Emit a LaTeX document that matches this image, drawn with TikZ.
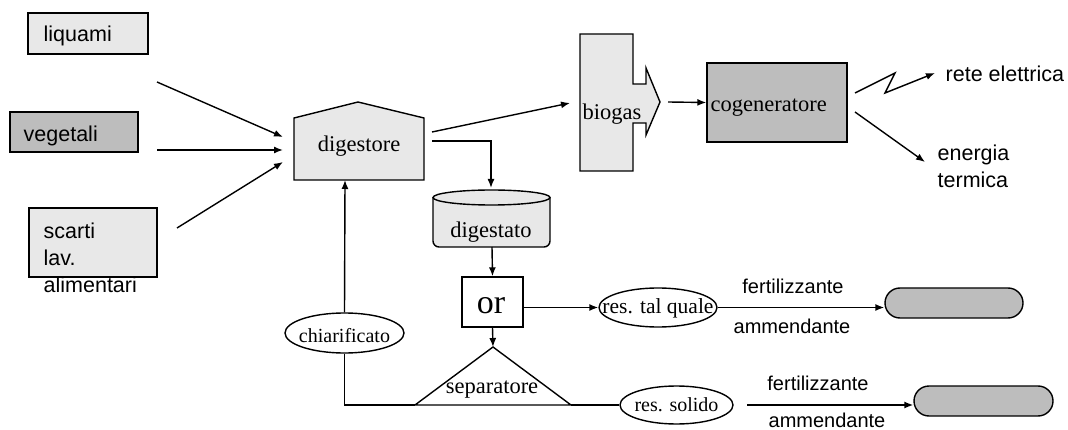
\documentclass[tikz,border=0pt]{standalone}
\usepackage{fontspec}
\setmainfont{Liberation Serif}
\setsansfont{Liberation Sans}
\usetikzlibrary{arrows.meta,shapes.geometric,shapes.misc,calc}
\definecolor{lightfill}{gray}{0.91}
\definecolor{darkfill}{gray}{0.74}
\begin{document}
\begin{tikzpicture}[x=1pt,y=-1pt,line width=1.4pt,
  arr/.style={-{Latex[length=9pt,width=7pt]}},
  ser/.style={font=\fontsize{22.5}{27}\selectfont},
  sersm/.style={font=\fontsize{20}{24}\selectfont},
  san/.style={font=\sffamily\fontsize{21.5}{27}\selectfont},
  sansm/.style={font=\sffamily\fontsize{20}{24}\selectfont},
  inbox/.style={draw,fill=lightfill,inner sep=0pt},
  oval/.style={draw,fill=white,ellipse,inner sep=0pt},
  pill/.style={draw,fill=darkfill,rounded rectangle,inner sep=0pt,minimum height=30pt}]
\useasboundingbox (0,0) rectangle (1068,430);

% input boxes
\node[inbox,minimum width=120pt,minimum height=41pt] (liq) at (88,33.5) {};
\node[san,anchor=base west,inner sep=0pt] (liqt) at (43,42) {liquami};
\node[inbox,fill=darkfill,minimum width=128pt,minimum height=40pt] (veg) at (74,132) {};
\node[san,anchor=base west,inner sep=0pt] (vegt) at (23,142) {vegetali};
\node[inbox,minimum width=128pt,minimum height=69pt] (sca) at (93,242.5) {};
\node[san,anchor=north west,align=left,inner sep=0pt] (scat) at (43,222.5) {scarti\\lav.\\alimentari};

% digestore
\draw[fill=lightfill] (294,180) -- (294,118) -- (358,102) -- (424,118) -- (424,180) -- cycle;
\node[ser,anchor=base,inner sep=0pt] (dig) at (359,152) {digestore};

\coordinate (i1s) at (157,82);  \coordinate (i1e) at (283,137);
\coordinate (i2s) at (157,150); \coordinate (i2e) at (283,150);
\coordinate (i3s) at (177,228); \coordinate (i3e) at (283,162);
\draw[arr] (i1s) -- (i1e);
\draw[arr] (i2s) -- (i2e);
\draw[arr] (i3s) -- (i3e);

% biogas
\draw[fill=lightfill] (580,34) -- (633,34) -- (633,84) -- (646,84) -- (646,68) -- (660,102) -- (646,135) -- (646,123) -- (633,123) -- (633,171) -- (580,171) -- cycle;
\node[ser,anchor=base,inner sep=0pt] (bio) at (612,120) {biogas};
\coordinate (d1) at (432,132); \coordinate (b1) at (570,103);
\draw[arr] (d1) -- (b1);

% cogeneratore
\node[draw,fill=darkfill,minimum width=140pt,minimum height=79pt,inner sep=0pt] (cog) at (777,102.5) {};
\node[ser,anchor=base west,inner sep=0pt] (cogt) at (710,112) {cogeneratore};
\coordinate (b2) at (668,102);
\draw[arr] (b2) -- (cog.west);

% outputs of cogeneratore
\node[san,anchor=base west,inner sep=0pt] (rete) at (945,82) {rete elettrica};
\node[san,anchor=north west,align=left,inner sep=0pt] (ener) at (937,144.5) {energia\\termica};
\coordinate (z0) at (855,93); \coordinate (z1) at (895,73); \coordinate (z2) at (885,93); \coordinate (z3) at (935,73);
\draw[arr] (z0) -- (z1) -- (z2) -- (z3);
\coordinate (e0) at (855,112); \coordinate (e1) at (925,162);
\draw[arr] (e0) -- (e1);

% digestato
\draw[fill=lightfill,rounded corners=6pt] (433,197.5) -- (433,247) -- (550,247) -- (550,197.5);
\draw[fill=lightfill] (491.5,197.5) ellipse [x radius=58.5, y radius=7.5];
\node[ser,anchor=base,inner sep=0pt] (dgt) at (491,238) {digestato};
\coordinate (d2) at (432,141); \coordinate (dgtop) at (491,188);
\draw[arr] (d2) -| (dgtop);

% or
\node[draw,fill=white,minimum width=61pt,minimum height=50pt,inner sep=0pt] (or) at (492.5,302) {};
\node[font=\fontsize{34}{40}\selectfont,anchor=base,inner sep=0pt] (ort) at (491,313) {or};
\coordinate (dgbot) at (492,247);
\draw[arr] (dgbot) -- (or.north);

% res. tal quale
\node[oval,minimum width=118pt,minimum height=39pt] (tq) at (658,307.5) {};
\node[ser,font=\fontsize{21.5}{26}\selectfont,anchor=base,inner sep=0pt] (tqt) at (658,313) {res. tal quale};
\draw[arr] (or.east |- tq.west) -- (tq.west);

% separatore
\coordinate (sa) at (493,347); \coordinate (sl) at (415,405); \coordinate (sr) at (571,405);
\draw[fill=white] (sl) -- (sa) -- (sr) -- cycle;
\node[ser,anchor=base,inner sep=0pt] (sep) at (492,393) {separatore};
\draw[arr] (or.south) -- (sa);

% chiarificato
\node[oval,minimum width=119pt,minimum height=40pt] (chi) at (344.5,333) {};
\node[sersm,anchor=base,inner sep=0pt] (chit) at (344.5,342) {chiarificato};
\coordinate (dbot) at (345,180);
\draw[arr] (chi.north) -- (dbot);
\draw (chi.south) |- (sl);

% res. solido
\node[oval,minimum width=113pt,minimum height=38pt] (rs) at (676.5,405) {};
\node[sersm,anchor=base,inner sep=0pt] (rst) at (676.5,411) {res. solido};
\draw (sr) -- (rs.west);

% final products
\node[pill,minimum width=138pt] (p1) at (954,303) {};
\node[pill,minimum width=139pt] (p2) at (983.5,401) {};
\draw[arr] (tq.east) -- (tq.east -| p1.west);
\coordinate (r1) at (747,405);
\draw[arr] (r1) -- (r1 -| p2.west);

\node[sansm,anchor=base,inner sep=0pt] (f1) at (793,294) {fertilizzante};
\node[sansm,anchor=base,inner sep=0pt] (a1) at (792,333) {ammendante};
\node[sansm,anchor=base,inner sep=0pt] (f2) at (818,390) {fertilizzante};
\node[sansm,anchor=base,inner sep=0pt] (a2) at (827,427) {ammendante};
\end{tikzpicture}
\end{document}
